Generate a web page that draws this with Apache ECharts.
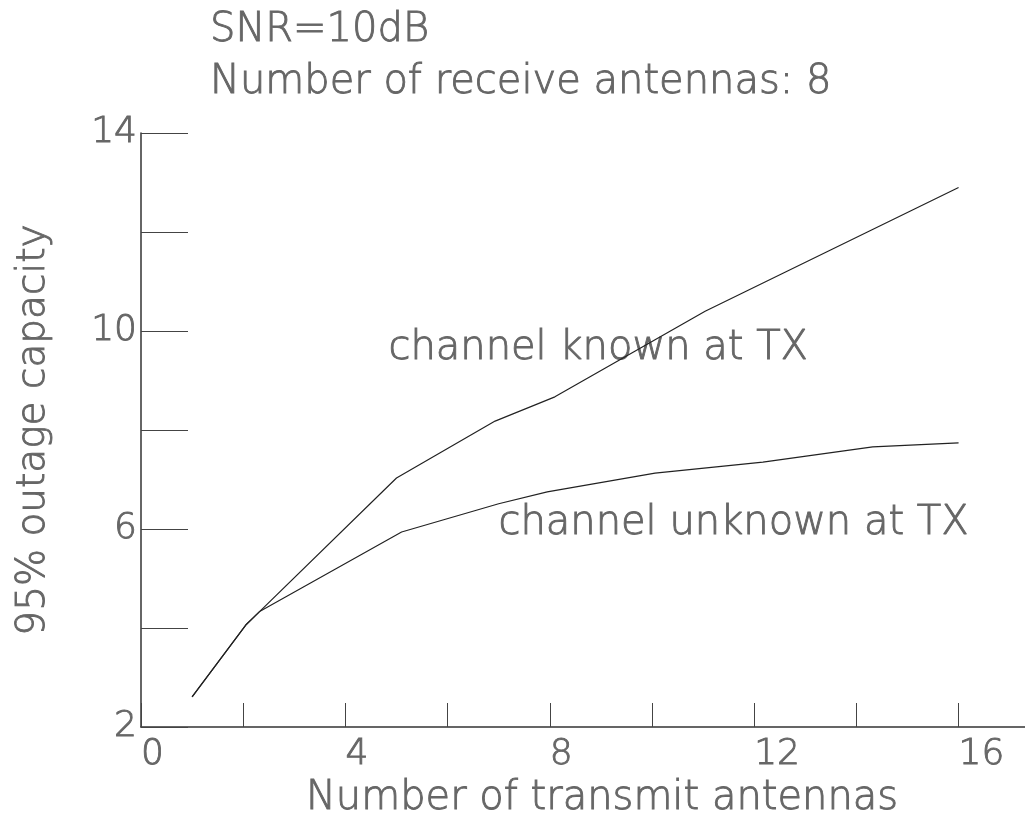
<!DOCTYPE html>
<html>
<head>
<meta charset="utf-8">
<script src="https://cdn.jsdelivr.net/npm/echarts@6/dist/echarts.min.js"></script>
<style>
  html, body { margin: 0; padding: 0; background: #fff; }
  #chart { width: 1025px; height: 837px; }
</style>
</head>
<body>
<div id="chart"></div>
<script>
// Transmit antenna counts and 95% outage capacity for each curve
const knownTx    = [1, 2.05, 2.33, 5.0, 6.93, 8.1, 11.04, 16.0];
const knownCap   = [2.61, 4.06, 4.34, 7.03, 8.18, 8.67, 10.4, 12.9];
const unknownTx  = [1, 2.05, 2.33, 5.1, 7.0, 7.95, 10.06, 12.17, 14.32, 16.0];
const unknownCap = [2.61, 4.06, 4.34, 5.94, 6.51, 6.75, 7.13, 7.35, 7.66, 7.74];

const titleLines = ['SNR=10dB', 'Number of receive antennas: 8'];
const curveNames = ['channel known at TX', 'channel unknown at TX'];
const xName = 'Number of transmit antennas';
const yName = '95% outage capacity';

const FONT = 'DejaVu Sans';
const WEIGHT = 200;
const TEXT = '#666666';
// thin face, thickened slightly with an outline in the same colour
const textLook = { fontFamily: FONT, fontWeight: WEIGHT, color: TEXT, textBorderColor: TEXT, textBorderWidth: 0.9 };

const zip = (xs, ys) => xs.map((x, i) => [x, ys[i]]);

const chart = echarts.init(document.getElementById('chart'), null, { renderer: 'canvas' });
chart.setOption({
  backgroundColor: '#fff',
  animation: false,
  title: {
    text: titleLines.join('\n'),
    left: 205, top: 0,
    textStyle: Object.assign({ fontSize: 40, lineHeight: 52 }, textLook)
  },
  grid: { left: 141, top: 133, right: 0, bottom: 110, containLabel: false },
  xAxis: {
    type: 'value', min: 0, max: 17.3, interval: 2,
    name: xName, nameLocation: 'middle', nameGap: 50,
    nameTextStyle: Object.assign({ fontSize: 40, padding: [0, 0, 0, 38] }, textLook),
    axisLine: { lineStyle: { color: '#333', width: 1.5 } },
    axisTick: { inside: true, length: 24, lineStyle: { color: '#444', width: 1 } },
    splitLine: { show: false },
    axisLabel: Object.assign({
      fontSize: 36, margin: 10, align: 'left',
      showMaxLabel: false,
      formatter: v => (v % 4 === 0 ? String(v) : '')
    }, textLook)
  },
  yAxis: {
    type: 'value', min: 2, max: 14, interval: 2,
    name: yName, nameLocation: 'middle', nameGap: 88,
    nameTextStyle: Object.assign({ fontSize: 39 }, textLook),
    axisLine: { lineStyle: { color: '#333', width: 1.5 } },
    axisTick: { inside: true, length: 47, lineStyle: { color: '#444', width: 1 } },
    splitLine: { show: false },
    axisLabel: Object.assign({
      fontSize: 36, margin: 4,
      formatter: v => ((v - 2) % 4 === 0 ? String(v) : '')
    }, textLook)
  },
  series: [
    {
      name: curveNames[0], type: 'line', data: zip(knownTx, knownCap),
      symbol: 'none', lineStyle: { color: '#222', width: 1.2 }
    },
    {
      name: curveNames[1], type: 'line', data: zip(unknownTx, unknownCap),
      symbol: 'none', lineStyle: { color: '#222', width: 1.2 }
    }
  ],
  graphic: [
    { type: 'text', left: 388, top: 328,
      style: { text: curveNames[0], font: WEIGHT + ' 40px "DejaVu Sans"', fill: TEXT, stroke: TEXT, lineWidth: 0.9 } },
    { type: 'text', left: 498, top: 503,
      style: { text: curveNames[1], font: WEIGHT + ' 40px "DejaVu Sans"', fill: TEXT, stroke: TEXT, lineWidth: 0.9 } }
  ]
});
</script>
</body>
</html>
